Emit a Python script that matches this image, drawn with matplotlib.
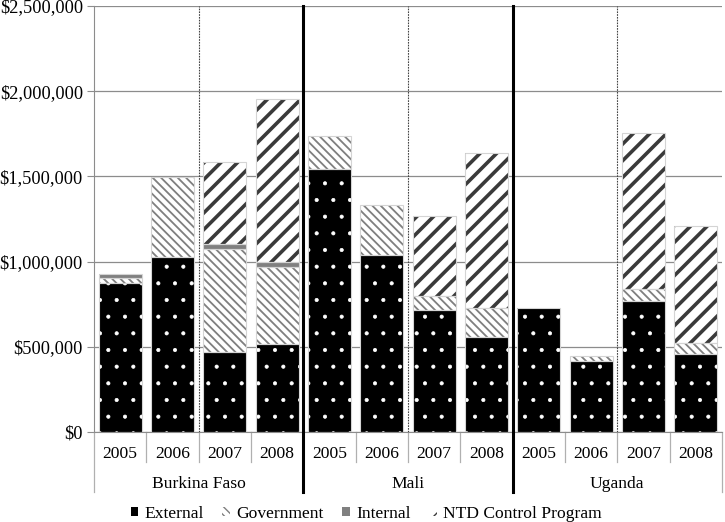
import numpy as np
import matplotlib
matplotlib.use('Agg')
import matplotlib.pyplot as plt
from matplotlib.ticker import StrMethodFormatter

plt.rcParams['font.family'] = ['Liberation Serif', 'DejaVu Serif']

# dados
countries = ['Burkina Faso', 'Mali', 'Uganda']
years = ['2005', '2006', '2007', '2008']

external = [872000, 1025000, 468000, 515000,
            1545000, 1039000, 716000, 559000,
            730000, 417000, 771000, 458000]
government = [30000, 470000, 604000, 455000,
              192000, 293000, 84000, 166000,
              0, 31000, 67000, 62000]
internal = [27000, 0, 30000, 28000,
            0, 0, 0, 0,
            0, 0, 0, 0]
ntd = [0, 0, 480000, 956000,
       0, 0, 468000, 910000,
       0, 0, 915000, 689000]

# nome, valores, cor de fundo, cor da hachura, hachura, espessura da hachura
series = [
    ('External', external, 'black', 'white', '.', 0.5),
    ('Government', government, 'white', '#7f7f7f', '\\\\\\\\', 1.3),
    ('Internal', internal, '#808080', '#808080', '', 0.5),
    ('NTD Control Program', ntd, 'white', '#3a3a3a', '//', 2.6),
]

fig = plt.figure(figsize=(7.25, 5.22), dpi=100)
ax = fig.add_axes([94 / 725, 90 / 522, 628 / 725, 426 / 522])

n = len(countries) * len(years)
x = np.arange(n)
bottom = np.zeros(n)
for name, vals, fc, hc, hatch, hlw in series:
    vals = np.array(vals, dtype=float)
    with plt.rc_context({'hatch.linewidth': hlw}):
        bars = ax.bar(x, vals, 0.82, bottom=bottom, color=fc, edgecolor=hc,
                      hatch=hatch, linewidth=0, label=name, zorder=2)
    for b in bars:
        if hasattr(b, 'set_hatch_linewidth'):
            b.set_hatch_linewidth(hlw)
    # contorno claro das barras
    m = vals > 0
    ax.bar(x[m], vals[m], 0.82, bottom=bottom[m], fill=False,
           edgecolor='#d4d4d4', linewidth=0.8, zorder=3)
    bottom += vals

ax.set_xlim(-0.5, n - 0.5)
ax.set_ylim(0, 2500000)
ax.set_yticks(np.arange(0, 2500001, 500000))
ax.yaxis.set_major_formatter(StrMethodFormatter('${x:,.0f}'))
ax.yaxis.grid(True, color='#8c8c8c', linewidth=0.9)
ax.set_axisbelow(True)
for s in ['top', 'right']:
    ax.spines[s].set_visible(False)
ax.spines['left'].set_color('#8c8c8c')
ax.spines['bottom'].set_color('#8c8c8c')
ax.tick_params(axis='y', length=5, color='#8c8c8c', labelsize=13.2, pad=3)
ax.set_xticks(x)
ax.set_xticklabels(years * len(countries))
ax.tick_params(axis='x', length=0, labelsize=12.6, pad=10)

# linhas separadoras do eixo de categorias
trans = ax.get_xaxis_transform()
for i in range(n + 1):
    xp = i - 0.5
    if i % 4 == 0:
        if i == 0 or i == n:
            ax.plot([xp, xp], [0, -0.141], color='#b0b0b0', lw=0.9,
                     transform=trans, clip_on=False)
        else:
            ax.plot([xp, xp], [1, -0.141], color='black', lw=2.2,
                     transform=trans, clip_on=False, zorder=4)
    else:
        ax.plot([xp, xp], [0, -0.0704], color='#b0b0b0', lw=0.9,
                 transform=trans, clip_on=False)
        if i % 4 == 2:
            ax.plot([xp, xp], [0, 1], color='#444444', lw=0.8,
                     linestyle=(0, (1.5, 1)), transform=trans, zorder=4)

for c, name in enumerate(countries):
    ax.text(4 * c + 1.5, -0.122, name, transform=trans, ha='center',
            va='center', fontsize=12.6)

fig.legend(loc='center', bbox_to_anchor=(366 / 725, 1 - 514 / 522), ncol=4,
           frameon=False, handlelength=0.45, handleheight=0.45,
           handletextpad=0.35, columnspacing=1.05, fontsize=12.6)

fig.savefig('out.png', dpi=100)
